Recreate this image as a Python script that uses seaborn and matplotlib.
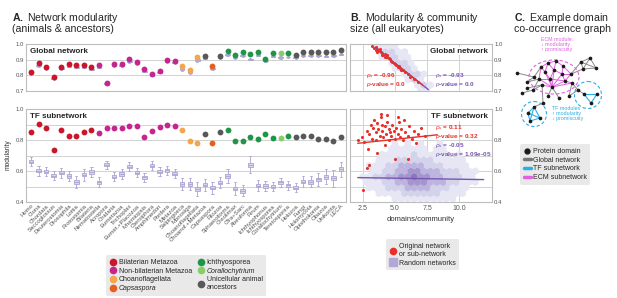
import numpy as np
import pandas as pd
import matplotlib
matplotlib.use("Agg")
import matplotlib.pyplot as plt
import seaborn as sns
from matplotlib.lines import Line2D
from matplotlib.patches import Ellipse, Circle

# ---------------- data ----------------
species = ["Homo", "Ciona", "Chordata", "Saccoglossus", "Deuterostomia", "Drosophila",
           "Lottia", "Protostomia", "Bilateria", "Nematostella", "Acropora", "Cnidaria",
           "Eumetazoa", "Trichoplax", "Eumet.+Placozoa", "Mnemiopsis", "Ctenophora",
           "Amphimedon", "Porifera", "Metazoa", "Salpingoeca", "Monosiga", "Choanoflagellata",
           "Choanof.+Metazoa", "Capsaspora", "Filozoa", "Sphaeroforma", "Creolimax",
           "Cfra+Sarc", "Abeoforma", "Pirum", "Ichthyophonus", "Ichthyosporea",
           "Corallochytrium", "Teretosporea", "Holozoa", "Fungi", "Holomycota",
           "Opisthokonta", "Obazoa", "Unikonta", "LECA"]

groups = (["Bilaterian Metazoa"] * 9 + ["Non-bilaterian Metazoa"] * 11 + ["Choanoflagellata"] * 3
          + ["Unicellular animal\nancestors", "Capsaspora", "Unicellular animal\nancestors"]
          + ["Ichthyosporea"] * 7 + ["Corallochytrium", "Ichthyosporea"]
          + ["Unicellular animal\nancestors"] * 7)

group_order = ["Bilaterian Metazoa", "Non-bilaterian Metazoa", "Choanoflagellata", "Capsaspora",
               "Ichthyosporea", "Corallochytrium", "Unicellular animal\nancestors"]
group_colors = ["#c9162b", "#c6258f", "#f5a54c", "#e5601e", "#1f9647", "#86cf66", "#585858"]

glob_orig = [0.822, 0.877, 0.853, 0.786, 0.853, 0.870, 0.864, 0.864, 0.851, 0.864, 0.751,
             0.872, 0.872, 0.903, 0.885, 0.838, 0.809, 0.829, 0.898, 0.894, 0.859, 0.835,
             0.916, 0.924, 0.859, 0.924, 0.958, 0.929, 0.948, 0.935, 0.948, 0.903, 0.942,
             0.942, 0.942, 0.933, 0.948, 0.952, 0.950, 0.948, 0.948, 0.965]
glob_rand_med = [0.810, 0.862, 0.843, 0.779, 0.842, 0.858, 0.853, 0.853, 0.840, 0.851, 0.745,
                 0.860, 0.860, 0.886, 0.874, 0.826, 0.800, 0.820, 0.886, 0.880, 0.842, 0.820,
                 0.898, 0.910, 0.842, 0.912, 0.932, 0.912, 0.926, 0.903, 0.930, 0.892, 0.922,
                 0.915, 0.918, 0.912, 0.925, 0.926, 0.925, 0.924, 0.925, 0.936]
glob_rand_iqr = [0.003] * 20 + [0.005, 0.005, 0.005] + [0.003] * 19
glob_rand_span = [0.007] * 20 + [0.014, 0.014, 0.012] + [0.007] * 19

tf_orig = [0.855, 0.905, 0.877, 0.737, 0.866, 0.829, 0.829, 0.851, 0.866, 0.847, 0.877,
           0.877, 0.877, 0.892, 0.892, 0.823, 0.861, 0.887, 0.900, 0.890, 0.866, 0.797,
           0.784, 0.840, 0.784, 0.853, 0.866, 0.797, 0.797, 0.823, 0.806, 0.837, 0.815,
           0.815, 0.828, 0.823, 0.827, 0.827, 0.810, 0.810, 0.797, 0.820]
tf_rand_med = [0.661, 0.601, 0.597, 0.570, 0.590, 0.568, 0.529, 0.577, 0.594, 0.529, 0.640,
               0.565, 0.581, 0.629, 0.590, 0.560, 0.635, 0.597, 0.605, 0.583, 0.518, 0.515,
               0.484, 0.512, 0.492, 0.525, 0.568, 0.487, 0.472, 0.640, 0.506, 0.504, 0.498,
               0.527, 0.508, 0.492, 0.531, 0.531, 0.546, 0.564, 0.553, 0.612]
tf_rand_iqr = [0.011, 0.010, 0.011, 0.009, 0.010, 0.010, 0.011, 0.011, 0.010, 0.010, 0.010,
               0.010, 0.010, 0.010, 0.010, 0.010, 0.011, 0.010, 0.010, 0.010, 0.013, 0.012,
               0.012, 0.011, 0.011, 0.010, 0.012, 0.012, 0.011, 0.015, 0.011, 0.011, 0.010,
               0.010, 0.010, 0.010, 0.011, 0.012, 0.012, 0.013, 0.013, 0.014]
tf_rand_span = [0.030, 0.035, 0.030, 0.028, 0.032, 0.035, 0.040, 0.038, 0.032, 0.030, 0.028,
                0.030, 0.035, 0.028, 0.030, 0.030, 0.030, 0.030, 0.030, 0.030, 0.040, 0.040,
                0.045, 0.040, 0.040, 0.035, 0.045, 0.040, 0.035, 0.055, 0.035, 0.030, 0.030,
                0.030, 0.030, 0.030, 0.035, 0.035, 0.040, 0.050, 0.055, 0.050]

# panel B: original networks of all eukaryotes
glob_eu_x = [3.2, 3.4, 3.5, 3.6, 3.7, 3.8, 3.9, 4.0, 4.1, 4.2, 4.3, 4.4, 4.5, 4.6, 4.7, 4.8, 4.9,
             5.0, 5.1, 5.2, 5.4, 5.5, 5.6, 5.8, 6.0, 6.2, 6.5, 6.8, 3.6, 3.8, 4.0, 4.4, 4.2, 5.3, 3.5]
glob_eu_y = [0.990, 0.975, 0.965, 0.972, 0.960, 0.955, 0.948, 0.945, 0.930, 0.935, 0.920, 0.915,
             0.910, 0.905, 0.895, 0.885, 0.878, 0.872, 0.865, 0.855, 0.845, 0.835, 0.835, 0.820,
             0.810, 0.790, 0.775, 0.755, 0.950, 0.968, 0.930, 0.930, 0.915, 0.860, 0.980]
tf_eu_x = [2.1, 2.4, 2.6, 2.8, 3.0, 3.1, 3.2, 3.3, 3.4, 3.5, 3.5, 3.6, 3.7, 3.8, 3.9, 4.0, 4.0,
           4.1, 4.2, 4.3, 4.4, 4.5, 4.5, 4.6, 4.7, 4.8, 4.9, 5.0, 5.1, 5.2, 5.3, 5.4, 5.5, 5.6,
           5.8, 6.0, 6.1, 6.3, 6.5, 6.8, 7.0, 7.3, 2.8, 2.5, 3.0, 5.0, 6.0, 3.9, 4.4, 5.7, 2.9,
           3.6, 4.2, 5.2, 6.6]
tf_eu_y = [0.80, 0.82, 0.79, 0.86, 0.84, 0.90, 0.81, 0.88, 0.93, 0.85, 0.80, 0.91, 0.87, 0.83,
           0.95, 0.86, 0.90, 0.82, 0.89, 0.84, 0.92, 0.87, 0.80, 0.85, 0.83, 0.90, 0.86, 0.81,
           0.88, 0.84, 0.92, 0.82, 0.87, 0.80, 0.85, 0.83, 0.89, 0.81, 0.86, 0.84, 0.88, 0.83,
           0.62, 0.48, 0.64, 0.68, 0.68, 0.97, 0.96, 0.93, 0.74, 0.72, 0.77, 0.95, 0.78]

# regression lines (ends)
glob_orig_fit_x, glob_orig_fit_y = [3.6, 7.15], [0.968, 0.737]
glob_rand_fit_x, glob_rand_fit_y = [3.5, 7.6], [0.975, 0.707]
tf_orig_fit_x, tf_orig_fit_y = [2.1, 8.3], [0.780, 0.835]
tf_rand_fit_x, tf_rand_fit_y = [2.1, 11.9], [0.558, 0.545]

# random-network density (hex rows, bottom row first), levels 0-5
glob_hex_x0, glob_hex_y0 = 2.5, 0.70
glob_hex = [
    [0, 0, 0, 0, 0, 0, 0, 0, 0, 1, 1, 0],
    [0, 0, 0, 0, 0, 0, 0, 0, 1, 2, 1, 0],
    [0, 0, 0, 0, 0, 0, 0, 1, 2, 1, 0, 0],
    [0, 0, 0, 0, 0, 0, 1, 2, 2, 1, 0, 0],
    [0, 0, 0, 0, 0, 1, 2, 2, 1, 0, 0, 0],
    [0, 0, 0, 0, 1, 2, 2, 1, 0, 0, 0, 0],
    [0, 0, 0, 1, 2, 2, 1, 1, 0, 0, 0, 0],
    [0, 0, 1, 2, 2, 1, 1, 0, 0, 0, 0, 0],
    [0, 0, 1, 1, 1, 1, 0, 0, 0, 0, 0, 0],
]
tf_hex_x0, tf_hex_y0 = 2.0, 0.42
tf_hex = [
    [0, 0, 0, 0, 0, 0, 1, 1, 1, 1, 1, 1, 1, 1, 1, 1, 0, 0, 0, 0, 0],
    [0, 0, 0, 1, 1, 1, 1, 2, 2, 2, 2, 2, 2, 1, 1, 1, 1, 0, 0, 0, 0],
    [0, 0, 1, 1, 1, 2, 2, 2, 3, 3, 3, 3, 2, 2, 2, 1, 1, 1, 0, 0, 0],
    [0, 1, 1, 1, 2, 2, 3, 3, 4, 4, 4, 3, 3, 3, 2, 2, 1, 1, 1, 0, 0],
    [0, 1, 1, 2, 2, 3, 3, 4, 4, 5, 4, 4, 3, 3, 2, 2, 2, 1, 1, 0, 0],
    [0, 0, 1, 1, 2, 2, 3, 3, 4, 4, 3, 3, 3, 2, 2, 2, 1, 1, 1, 0, 0],
    [0, 0, 1, 1, 1, 2, 2, 3, 3, 3, 3, 2, 2, 2, 1, 1, 1, 1, 0, 0, 0],
    [0, 0, 0, 1, 1, 1, 2, 2, 2, 2, 2, 2, 1, 1, 1, 1, 1, 0, 0, 0, 0],
    [0, 0, 0, 0, 1, 1, 1, 1, 1, 2, 1, 1, 1, 1, 1, 0, 1, 0, 0, 0, 0],
    [0, 0, 0, 0, 0, 1, 1, 1, 1, 1, 1, 0, 1, 1, 0, 0, 0, 0, 0, 0, 0],
    [0, 0, 0, 0, 0, 0, 1, 0, 1, 0, 1, 0, 0, 1, 0, 0, 0, 0, 0, 0, 0],
]
hex_colors = {1: "#e6e6f4", 2: "#d3d2eb", 3: "#bcb4de", 4: "#a396cd", 5: "#8a77bd"}

# panel C graph
node_x = [517, 527, 527, 522, 533, 534, 541, 548, 556, 563, 545, 554, 562, 571, 539, 550, 565,
          552, 542, 572, 548, 559, 569, 543, 581, 590, 596, 583, 578, 584, 597, 591, 534, 528,
          540, 530]
node_y = [73, 82, 88, 93, 90, 77, 67, 63, 61, 66, 72, 70, 74, 74, 79, 79, 81, 87, 85, 83, 96,
          98, 96, 103, 62, 58, 68, 69, 90, 94, 94, 103, 107, 113, 118, 121]
edges_global = [(0, 5), (1, 14), (1, 5), (2, 18), (3, 4), (4, 18), (4, 14), (5, 6), (13, 27),
                (24, 25), (25, 26), (26, 27), (27, 24), (24, 26), (25, 27), (17, 20), (17, 21),
                (19, 22), (18, 23), (23, 32), (19, 28), (28, 29), (13, 24), (22, 28)]
edges_ecm = [(17, 10), (17, 11), (17, 12), (17, 14), (17, 15), (17, 16), (17, 18), (17, 19),
             (6, 7), (7, 8), (8, 9), (6, 10), (7, 10), (7, 11), (8, 11), (9, 12), (11, 12),
             (12, 13), (10, 15), (11, 15), (14, 15), (15, 16), (9, 13), (12, 16), (6, 14),
             (16, 19), (13, 16)]
edges_tf = [(29, 30), (30, 31), (29, 31), (32, 33), (33, 35), (35, 34), (34, 32), (32, 35), (33, 34)]

# ---------------- style ----------------
sns.set_theme(style="white")
plt.rcParams['font.family'] = ['Liberation Sans', 'DejaVu Sans']
plt.rcParams.update({'mathtext.fontset': 'custom', 'mathtext.rm': 'Liberation Sans',
                     'mathtext.it': 'Liberation Sans:italic', 'mathtext.bf': 'Liberation Sans:bold'})

W, H = 617, 298
fig = plt.figure(figsize=(W / 100, H / 100), dpi=100)


def rect(x0, y0, x1, y1):
    return [x0 / W, 1 - y1 / H, (x1 - x0) / W, (y1 - y0) / H]


axA1 = fig.add_axes(rect(26, 44.3, 346, 90.7))
axA2 = fig.add_axes(rect(26, 109.3, 346, 202))
axB1 = fig.add_axes(rect(350, 44.3, 492, 90.7))
axB2 = fig.add_axes(rect(350, 109.3, 492, 202))
axC = fig.add_axes(rect(500, 35, 617, 140))

grid_c = "#d2d2d2"
spine_c = "#bdbdbd"
pal = dict(zip(group_order, group_colors))


def style_axes(ax):
    for s in ax.spines.values():
        s.set_color(spine_c)
        s.set_linewidth(0.8)
    ax.tick_params(which="both", length=0, labelsize=4.3, pad=1.5, colors="#555555")
    ax.grid(True, which="both", axis="y", color=grid_c, lw=0.7)
    ax.set_axisbelow(True)
    ax.set_xlabel("")
    ax.set_ylabel("")


# ---------------- panel A ----------------
for ax, orig, med, iqr, span, ylim in [
        (axA1, glob_orig, glob_rand_med, glob_rand_iqr, glob_rand_span, (0.7, 1.0)),
        (axA2, tf_orig, tf_rand_med, tf_rand_iqr, tf_rand_span, (0.4, 1.0))]:
    rows = []
    for sp, m, q, r in zip(species, med, iqr, span):
        for v in (m - r, m - q, m, m + q, m + r):
            rows.append((sp, v))
    box_df = pd.DataFrame(rows, columns=["species", "modularity"])
    sns.boxplot(data=box_df, x="species", y="modularity", order=species, whis=(0, 100),
                showfliers=False, width=0.6, color="#d6d1ec", linecolor="#aba3d3",
                linewidth=0.6, ax=ax)
    pts = pd.DataFrame({"species": species, "modularity": orig, "group": groups})
    sns.stripplot(data=pts, x="species", y="modularity", hue="group", order=species,
                  palette=pal, jitter=False, size=4.2, linewidth=0, legend=False, ax=ax, zorder=3)
    ax.set_xlim(-0.66, 41.66)
    ax.set_ylim(*ylim)
    style_axes(ax)

axA1.set_yticks([0.7, 0.8, 0.9, 1.0])
axA1.set_xticks(range(len(species)))
axA1.set_xticklabels([])
axA2.set_yticks([0.4, 0.6, 0.8, 1.0])
axA2.set_yticks([0.5, 0.7, 0.9], minor=True)
axA2.set_xticks(range(len(species)))
axA2.set_xticklabels(species, rotation=45, ha="right", rotation_mode="anchor", fontsize=4.3)
axA2.tick_params(axis="x", pad=1)

axA1.text(0.013, 0.93, "Global network", transform=axA1.transAxes, fontsize=5.8,
          fontweight="bold", va="top", ha="left")
axA2.text(0.013, 0.96, "TF subnetwork", transform=axA2.transAxes, fontsize=5.8,
          fontweight="bold", va="top", ha="left")
fig.text(8 / W, 1 - 155 / H, "modularity", rotation=90, fontsize=4.8, va="center", ha="center",
         color="#333333")

# ---------------- panel B ----------------
def hex_frame(table, x0, y0):
    rows = []
    for r, row in enumerate(table):
        for c, lev in enumerate(row):
            if lev > 0:
                rows.append((x0 + c * 0.5 + (0.25 if r % 2 else 0), y0 + r * 0.036, lev))
    return pd.DataFrame(rows, columns=["x", "y", "level"])


purple = "#7a55b0"
red = "#e8302a"
for ax, table, hx0, hy0, ex, ey, ofx, ofy, rfx, rfy, ylim in [
        (axB1, glob_hex, glob_hex_x0, glob_hex_y0, glob_eu_x, glob_eu_y, glob_orig_fit_x,
         glob_orig_fit_y, glob_rand_fit_x, glob_rand_fit_y, (0.7, 1.0)),
        (axB2, tf_hex, tf_hex_x0, tf_hex_y0, tf_eu_x, tf_eu_y, tf_orig_fit_x, tf_orig_fit_y,
         tf_rand_fit_x, tf_rand_fit_y, (0.4, 1.0))]:
    hdf = hex_frame(table, hx0, hy0)
    sns.scatterplot(data=hdf, x="x", y="y", hue="level", palette=hex_colors, marker="h", s=31,
                    linewidth=0, legend=False, ax=ax, zorder=1)
    sns.scatterplot(x=ex, y=ey, color=red, s=5, linewidth=0, ax=ax, zorder=3)
    sns.lineplot(x=rfx, y=rfy, color=purple, lw=1.0, ax=ax, zorder=4)
    sns.lineplot(x=ofx, y=ofy, color=red, lw=1.0, ax=ax, zorder=4)
    ax.set_xlim(1.5, 12.55)
    ax.set_ylim(*ylim)
    style_axes(ax)
    ax.grid(True, which="both", axis="x", color=grid_c, lw=0.7)
    ax.set_xticks([2.5, 5.0, 7.5, 10.0])
    ax.yaxis.tick_right()

axB1.set_yticks([0.7, 0.8, 0.9, 1.0])
axB1.set_xticklabels([])
axB2.set_yticks([0.4, 0.6, 0.8, 1.0])
axB2.set_yticks([0.5, 0.7, 0.9], minor=True)
axB2.tick_params(axis="x", labelsize=5, pad=2)
axB2.set_xlabel("domains/community", fontsize=5.5, labelpad=3, color="#333333")

box_w = dict(facecolor="white", edgecolor="none", pad=0.6)
axB1.text(0.97, 0.93, "Global network", transform=axB1.transAxes, fontsize=5.8,
          fontweight="bold", va="top", ha="right", bbox=box_w, zorder=5)
axB2.text(0.97, 0.96, "TF subnetwork", transform=axB2.transAxes, fontsize=5.8,
          fontweight="bold", va="top", ha="right", bbox=box_w, zorder=5)

ann = dict(fontsize=4.6, fontweight="bold", linespacing=0.95, zorder=6)
axB1.text(0.11, 0.04, "$\\rho_s$ = -0.96\n$p$-value = 0.0", transform=axB1.transAxes,
          color=red, va="bottom", **ann)
axB1.text(0.6, 0.04, "$\\rho_s$ = -0.93\n$p$-value = 0.0", transform=axB1.transAxes,
          color=purple, va="bottom", **ann)
axB2.text(0.6, 0.85, "$\\rho_s$ = 0.11\n$p$-value = 0.32", transform=axB2.transAxes,
          color=red, va="top", **ann)
axB2.text(0.6, 0.655, "$\\rho_s$ = -0.05\n$p$-value = 1.09e-05", transform=axB2.transAxes,
          color=purple, va="top", **ann)

# ---------------- panel C ----------------
ecm_c, tf_c, gl_c = "#e060e0", "#2aaee6", "#8a8a8a"
for (a, b) in edges_global:
    axC.plot([node_x[a], node_x[b]], [node_y[a], node_y[b]], color=gl_c, lw=0.7, zorder=1)
for (a, b) in edges_ecm:
    axC.plot([node_x[a], node_x[b]], [node_y[a], node_y[b]], color=ecm_c, lw=0.7, zorder=2)
for (a, b) in edges_tf:
    axC.plot([node_x[a], node_x[b]], [node_y[a], node_y[b]], color=tf_c, lw=0.8, zorder=2)
sns.scatterplot(x=node_x, y=node_y, color="#1a1a1a", s=7, linewidth=0, ax=axC, zorder=3)
axC.add_patch(Ellipse((554, 77), 50, 34, fill=False, ec=ecm_c, lw=0.8, ls=(0, (3, 2))))
axC.add_patch(Circle((588, 95), 13.5, fill=False, ec=tf_c, lw=0.8, ls=(0, (3, 2))))
axC.add_patch(Circle((534, 114), 12.5, fill=False, ec=tf_c, lw=0.8, ls=(0, (3, 2))))
axC.text(541, 37, "ECM module:\n\u2193 modularity\n\u2191 promiscuity", color=ecm_c, fontsize=3.8,
         va="top", ha="left", linespacing=0.95)
axC.text(552, 106, "TF modules\n\u2191 modularity\n\u2193 promiscuity", color=tf_c, fontsize=3.8,
         va="top", ha="left", linespacing=0.95)
axC.set_xlim(500, 617)
axC.set_ylim(140, 35)
axC.axis("off")

# ---------------- titles ----------------
tkw = dict(fontsize=7.6, va="top", ha="left", linespacing=0.92)
fig.text(12 / W, 1 - 11 / H, "$\\bf{A.}$ Network modularity\n(animals & ancestors)", **tkw)
fig.text(350 / W, 1 - 11 / H, "$\\bf{B.}$ Modularity & community\nsize (all eukaryotes)", **tkw)
fig.text(514 / W, 1 - 11 / H, "$\\bf{C.}$ Example domain\nco-occurrence graph", **tkw)

# ---------------- legends ----------------
leg_kw = dict(frameon=True, facecolor="#e9e9e9", edgecolor="none", framealpha=1, fontsize=5,
              handletextpad=0.3, labelspacing=0.25, borderpad=0.5, handlelength=1.0,
              loc="upper left")
hA = [Line2D([0], [0], marker="o", ls="", color=c, markersize=4.5) for c in group_colors]
legA = fig.legend(hA, group_order, ncol=2, columnspacing=0.8,
                  bbox_to_anchor=(103 / W, 1 - 252 / H), **leg_kw)
for t in legA.get_texts():
    if t.get_text() in ("Capsaspora", "Corallochytrium"):
        t.set_style("italic")

hB = [Line2D([0], [0], marker="o", ls="", color=red, markersize=4.5),
      Line2D([0], [0], marker="s", ls="", color="#b3a7d8", markersize=6)]
fig.legend(hB, ["Original network\nor sub-network", "Random networks"],
           bbox_to_anchor=(383 / W, 1 - 236 / H), **leg_kw)

hC = [Line2D([0], [0], marker="o", ls="", color="#1a1a1a", markersize=3.5),
      Line2D([0], [0], color="#777777", lw=2.5),
      Line2D([0], [0], color=tf_c, lw=2.5),
      Line2D([0], [0], color=ecm_c, lw=2.5)]
fig.legend(hC, ["Protein domain", "Global network", "TF subnetwork", "ECM subnetwork"],
           bbox_to_anchor=(517 / W, 1 - 141 / H), **leg_kw)

fig.savefig("out.png", dpi=100)
